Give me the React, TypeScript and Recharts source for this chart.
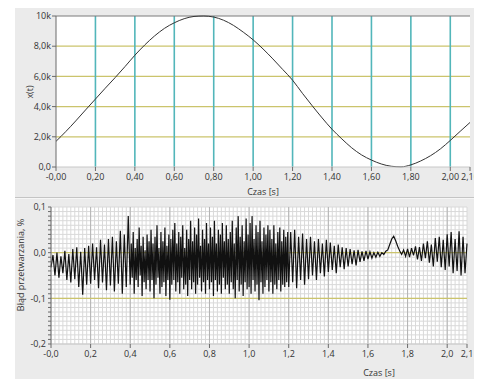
import React from "react";
import { LineChart, Line, XAxis, YAxis, CartesianGrid } from "recharts";

// ---------- Top chart: x(t) ----------
const topTimes = [
  0, 0.05, 0.1, 0.15, 0.2, 0.25, 0.3, 0.35, 0.4, 0.45, 0.5, 0.55, 0.6, 0.65, 0.7,
  0.75, 0.8, 0.85, 0.9, 0.95, 1, 1.05, 1.1, 1.15, 1.2, 1.25, 1.3, 1.35, 1.4, 1.45,
  1.5, 1.55, 1.6, 1.65, 1.7, 1.75, 1.8, 1.85, 1.9, 1.95, 2, 2.05, 2.1,
];
const topValues = [
  1700, 2350, 3050, 3780, 4500, 5220, 5920, 6650, 7400, 8080, 8680, 9180, 9550,
  9820, 9970, 10000, 9930, 9720, 9380, 8930, 8420, 7820, 7160, 6460, 5750, 4880,
  4050, 3250, 2500, 1860, 1270, 800, 460, 200, 50, 10, 140, 400, 750, 1200, 1760,
  2360, 2950,
];
const topXTicks = [0, 0.2, 0.4, 0.6, 0.8, 1.0, 1.2, 1.4, 1.6, 1.8, 2.0, 2.1];
const topXTickLabels = ["-0,00", "0,20", "0,40", "0,60", "0,80", "1,00", "1,20", "1,40", "1,60", "1,80", "2,00", "2,10"];
const topYTicks = [0, 2000, 4000, 6000, 8000, 10000];
const topYTickLabels = ["0,0", "2,0k", "4,0k", "6,0k", "8,0k", "10k"];
const topYellowLines = [2000, 4000, 6000, 8000];
const topTealLines = [0.2, 0.4, 0.6, 0.8, 1.0, 1.2, 1.4, 1.6, 1.8, 2.0];

// ---------- Bottom chart: conversion error ----------
// t = 0.00 .. 0.39, step 0.01
const errA = [
  -0.032, -0.005, -0.05, 0.0, -0.055, -0.008, -0.045, 0.004, -0.06, -0.003,
  -0.065, 0.008, -0.058, 0.012, -0.075, 0.002, -0.092, 0.01, -0.07, 0.015,
  -0.068, 0.02, -0.06, 0.012, -0.078, 0.028, -0.065, 0.018, -0.082, 0.03,
  -0.072, 0.035, -0.085, 0.025, -0.068, 0.048, -0.09, 0.04, -0.075, 0.08,
];
// t = 0.400 .. 1.195, step 0.005
const errB = [
  -0.07, 0.02, -0.055, 0.045, -0.09, 0.01, -0.06, 0.03, -0.075, 0.055, -0.05, 0.015, -0.095, 0.035, -0.065, 0.005, -0.08, 0.04, -0.06, 0.025,
  -0.085, 0.05, -0.06, 0.02, -0.1, 0.035, -0.07, 0.06, -0.055, 0.01, -0.09, 0.045, -0.075, 0.025, -0.065, 0.055, -0.095, 0.015, -0.06, 0.04,
  -0.103, 0.03, -0.07, 0.05, -0.06, 0.065, -0.085, 0.02, -0.065, 0.045, -0.09, 0.035, -0.055, 0.06, -0.08, 0.01, -0.07, 0.05, -0.095, 0.03,
  -0.06, 0.07, -0.08, 0.025, -0.065, 0.055, -0.09, 0.04, -0.07, 0.075, -0.055, 0.015, -0.085, 0.05, -0.065, 0.03, -0.09, 0.065, -0.06, 0.02,
  -0.08, 0.055, -0.065, 0.035, -0.095, 0.07, -0.06, 0.02, -0.085, 0.05, -0.07, 0.04, -0.09, 0.065, -0.055, 0.025, -0.08, 0.06, -0.07, 0.03,
  -0.09, 0.045, -0.065, 0.07, -0.08, 0.02, -0.1, 0.055, -0.06, 0.08, -0.085, 0.035, -0.07, 0.06, -0.095, 0.025, -0.065, 0.075, -0.08, 0.04,
  -0.075, 0.065, -0.09, 0.08, -0.06, 0.03, -0.085, 0.06, -0.07, 0.045, -0.104, 0.07, -0.065, 0.025, -0.09, 0.055, -0.075, 0.04, -0.06, 0.06,
  -0.085, 0.05, -0.065, 0.03, -0.09, 0.06, -0.07, 0.02, -0.08, 0.045, -0.06, 0.055, -0.085, 0.025, -0.07, 0.05, -0.075, 0.035, -0.065, 0.045,
];
// t = 1.20 .. 2.10, step 0.01
const errC = [
  -0.075, 0.045, -0.065, 0.05, -0.078, 0.035, -0.06, 0.042, -0.07, 0.03,
  -0.058, 0.035, -0.05, 0.025, -0.06, 0.03, -0.045, 0.02, -0.052, 0.028,
  -0.042, 0.022, -0.038, 0.015, -0.045, 0.018, -0.032, 0.012, -0.036, 0.01,
  -0.03, 0.008, -0.025, 0.005, -0.028, 0.006, -0.02, 0.003, -0.018, 0.004,
  -0.014, 0.002, -0.012, 0.0, -0.01, 0.001, -0.008, 0.0, -0.004, 0.003,
  0.006, 0.018, 0.03, 0.036, 0.026, 0.014, 0.004, -0.004, 0.006, -0.008,
  0.008, -0.01, 0.01, -0.006, 0.014, -0.015, 0.012, -0.018, 0.02, -0.012,
  0.025, -0.022, 0.018, -0.03, 0.032, -0.02, 0.035, -0.032, 0.028, -0.038,
  0.04, -0.03, 0.045, -0.045, 0.03, -0.04, 0.047, -0.05, 0.035, -0.045, 0.02,
];
const errAStart = 0, errAStep = 0.01;
const errBStart = 0.4, errBStep = 0.005;
const errCStart = 1.2, errCStep = 0.01;

const botXTicks = [0, 0.2, 0.4, 0.6, 0.8, 1.0, 1.2, 1.4, 1.6, 1.8, 2.0, 2.1];
const botXTickLabels = ["-0,0", "0,2", "0,4", "0,6", "0,8", "1,0", "1,2", "1,4", "1,6", "1,8", "2,0", "2,1"];
const botYTicks = [0.1, 0, -0.1, -0.2];
const botYTickLabels = ["0,1", "0,0", "-0,1", "-0,2"];
const botYellowLines = [0, -0.1];

// ---------- build tables ----------
const topData = topTimes.map((t, i) => ({ t, v: topValues[i] }));
const r = (x: number) => Math.round(x * 10000) / 10000;
const errData = [
  ...errA.map((v, i) => ({ t: r(errAStart + i * errAStep), v })),
  ...errB.map((v, i) => ({ t: r(errBStart + i * errBStep), v })),
  ...errC.map((v, i) => ({ t: r(errCStart + i * errCStep), v })),
];

const minorY: number[] = [];
for (let i = 0; i <= 30; i++) minorY.push(Math.round((-0.2 + i * 0.01) * 100) / 100);
const minorX: number[] = [];
for (let i = 0; i <= 105; i++) minorX.push(Math.round(i * 0.02 * 100) / 100);
const majorX = [0.2, 0.4, 0.6, 0.8, 1.0, 1.2, 1.4, 1.6, 1.8, 2.0];

const labelFor = (ticks: number[], labels: string[]) => (v: number) => {
  const idx = ticks.findIndex((t) => Math.abs(t - v) < 1e-6);
  return idx >= 0 ? labels[idx] : "";
};

const FONT = "'Open Sans', 'Noto Sans', sans-serif";
const tickStyle = { fill: "#333", fontSize: 9, fontFamily: FONT };
const AXIS = "#6a6a6a";

const titleStyle: React.CSSProperties = {
  position: "absolute",
  fontFamily: FONT,
  fontSize: 9,
  color: "#333",
  whiteSpace: "nowrap",
  lineHeight: "11px",
};

export default function App() {
  return (
    <div
      style={{
        position: "relative",
        marginLeft: 7,
        width: 467,
        height: 371,
        background: "#ebebeb",
        overflow: "hidden",
      }}
    >
      {/* top chart */}
      <div style={{ position: "absolute", left: 0, top: 0 }}>
        <LineChart
          width={467}
          height={189}
          data={topData}
          margin={{ top: 8, right: 12, bottom: 0, left: 0 }}
        >
          <CartesianGrid
            fill="#ffffff"
            vertical={false}
            horizontalValues={topYellowLines}
            stroke="#cbc46c"
            strokeWidth={1.2}
          />
          <CartesianGrid
            horizontal={false}
            verticalValues={topTealLines}
            stroke="#52b6ba"
            strokeWidth={1.6}
          />
          <CartesianGrid
            vertical={false}
            horizontalValues={[10000]}
            stroke="#7a7a7a"
          />
          <XAxis
            dataKey="t"
            type="number"
            domain={[0, 2.1]}
            ticks={topXTicks}
            interval={0}
            tickFormatter={labelFor(topXTicks, topXTickLabels)}
            tick={tickStyle}
            tickSize={4}
            tickMargin={3}
            height={30}
            axisLine={{ stroke: "#c8c8c8" }}
            tickLine={{ stroke: AXIS }}
          />
          <YAxis
            type="number"
            domain={[0, 10000]}
            ticks={topYTicks}
            interval={0}
            tickFormatter={labelFor(topYTicks, topYTickLabels)}
            tick={tickStyle}
            tickSize={4}
            tickMargin={1}
            width={41}
            axisLine={{ stroke: AXIS }}
            tickLine={{ stroke: AXIS }}
          />
          <Line
            dataKey="v"
            type="monotone"
            stroke="#333333"
            strokeWidth={1}
            dot={false}
            isAnimationActive={false}
          />
        </LineChart>
      </div>
      <div style={{ ...titleStyle, left: 13.5, top: 83.5, transform: "translate(-50%,-50%) rotate(-90deg)" }}>x(t)</div>
      <div style={{ ...titleStyle, left: 248, top: 183, transform: "translate(-50%,-50%)" }}>Czas [s]</div>

      {/* separator */}
      <div style={{ position: "absolute", left: 0, top: 189, width: 467, height: 1, background: "#c4c4c4" }} />
      <div style={{ position: "absolute", left: 0, top: 190, width: 467, height: 1, background: "#f6f6f6" }} />

      {/* bottom chart */}
      <div style={{ position: "absolute", left: 0, top: 191 }}>
        <LineChart
          width={467}
          height={180}
          data={errData}
          margin={{ top: 8, right: 15, bottom: 0, left: 0 }}
        >
          <CartesianGrid
            fill="#ffffff"
            horizontalValues={minorY}
            verticalValues={minorX}
            stroke="#d9d9d9"
            strokeWidth={1}
          />
          <CartesianGrid
            horizontal={false}
            verticalValues={majorX}
            stroke="#b4b4b4"
          />
          <CartesianGrid
            vertical={false}
            horizontalValues={botYellowLines}
            stroke="#cbc46c"
            strokeWidth={1.2}
          />
          <XAxis
            dataKey="t"
            type="number"
            domain={[0, 2.1]}
            ticks={botXTicks}
            interval={0}
            tickFormatter={labelFor(botXTicks, botXTickLabels)}
            tick={tickStyle}
            tickSize={4}
            tickMargin={3}
            height={35}
            axisLine={{ stroke: "#c8c8c8" }}
            tickLine={{ stroke: AXIS }}
          />
          <YAxis
            type="number"
            domain={[-0.2, 0.1]}
            ticks={minorY}
            interval={0}
            tickFormatter={labelFor(botYTicks, botYTickLabels)}
            tick={tickStyle}
            tickSize={3}
            tickMargin={2}
            width={36}
            axisLine={{ stroke: AXIS }}
            tickLine={{ stroke: AXIS }}
          />
          <Line
            dataKey="v"
            type="linear"
            stroke="#111111"
            strokeWidth={1.2}
            dot={false}
            isAnimationActive={false}
          />
        </LineChart>
      </div>
      <div style={{ ...titleStyle, left: 5, top: 257, transform: "translate(-50%,-50%) rotate(-90deg)" }}>Błąd przetwarzania, %</div>
      <div style={{ ...titleStyle, left: 364, top: 364, transform: "translate(-50%,-50%)" }}>Czas [s]</div>
    </div>
  );
}
